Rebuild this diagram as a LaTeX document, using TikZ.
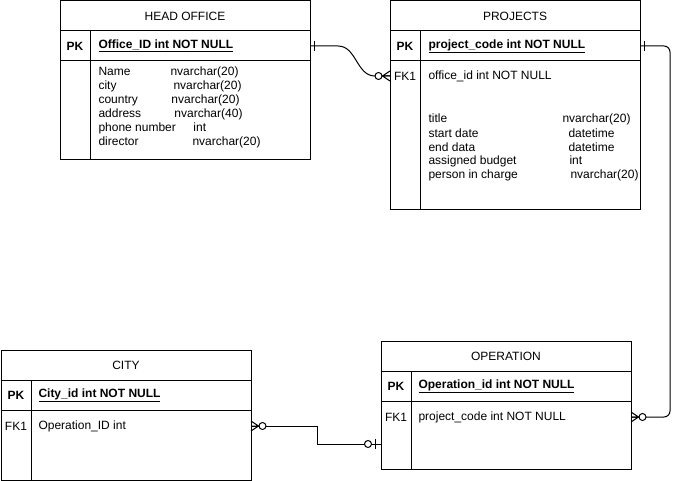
\documentclass[tikz,border=0pt]{standalone}
\usepackage{fontspec}
\setmainfont{Liberation Sans}
\usepackage{tikz}
\usetikzlibrary{positioning}
\newcommand{\erfont}{\fontsize{12}{14}\selectfont}
\newcommand{\fld}[3]{\makebox[#1pt][l]{#2}#3}

\tikzset{
  tabhead/.style={draw, anchor=north west, minimum width=250pt, minimum height=30pt, inner sep=0pt, outer sep=0pt},
  tabrow/.style={draw, minimum width=250pt, minimum height=30pt, inner sep=0pt, outer sep=0pt},
  keytag/.style={font=\erfont\bfseries, inner sep=0pt},
  fktag/.style={inner sep=0pt},
  keyname/.style={font=\erfont\bfseries, anchor=west, inner sep=0pt},
  field/.style={anchor=west, inner sep=0pt},
  onlyone/.pic={\draw (4,-5) -- (4,5);},
  crowzero/.pic={\draw (0,-5) -- (7.5,0) -- (0,5) (0,0) -- (8,0);
    \draw[fill=white] (11.5,0) circle (3.5pt);},
  barzero/.pic={\draw (6,-5) -- (6,5);
    \draw[fill=white] (13,0) circle (3.5pt);}
}

\begin{document}
\begin{tikzpicture}[x=1pt, y=-1pt, line width=1pt, font=\erfont]
  \useasboundingbox (0,0) rectangle (680,481);

  % HEAD OFFICE
  \node[tabhead] (office) at (60,1) {HEAD OFFICE};
  \node[tabrow, below=0pt of office] (officepk) {};
  \node[tabrow, minimum height=99pt, below=0pt of officepk] (officebody) {};
  \draw ([xshift=30pt]officepk.north west) -- ([xshift=30pt]officebody.south west);
  \node[keytag] (officepktag) at ([xshift=15pt]officepk.west) {PK};
  \node[keyname] (officeid) at ([xshift=38pt]officepk.west) {\underline{Office\_ID int NOT NULL}};
  \node[field] (officename) at ([xshift=38pt,yshift=-11pt]officebody.north west) {\fld{72}{Name}{nvarchar(20)}};
  \node[field] (officecity) at ([yshift=-14pt]officename.west) {\fld{75}{city}{nvarchar(20)}};
  \node[field] (officecountry) at ([yshift=-14pt]officecity.west) {\fld{73}{country}{nvarchar(20)}};
  \node[field] (officeaddress) at ([yshift=-14pt]officecountry.west) {\fld{76}{address}{nvarchar(40)}};
  \node[field] (officephone) at ([yshift=-14pt]officeaddress.west) {\fld{95}{phone number}{int}};
  \node[field] (officedirector) at ([yshift=-14pt]officephone.west) {\fld{94}{director}{nvarchar(20)}};

  % PROJECTS
  \node[tabhead] (proj) at (390,1) {PROJECTS};
  \node[tabrow, below=0pt of proj] (projpk) {};
  \node[tabrow, minimum height=149pt, below=0pt of projpk] (projbody) {};
  \draw ([xshift=30pt]projpk.north west) -- ([xshift=30pt]projbody.south west);
  \node[keytag] (projpktag) at ([xshift=15pt]projpk.west) {PK};
  \node[keyname] (projcode) at ([xshift=38pt]projpk.west) {\underline{project\_code int NOT NULL}};
  \node[fktag] (projfktag) at ([xshift=15pt,yshift=-15pt]projbody.north west) {FK1};
  \node[field] (projfk) at ([xshift=38pt,yshift=-15pt]projbody.north west) {office\_id int NOT NULL};
  \node[field] (projtitle) at ([yshift=-43pt]projfk.west) {\fld{134}{title}{nvarchar(20)}};
  \node[field] (projstart) at ([yshift=-14pt]projtitle.west) {\fld{140}{start date}{datetime}};
  \node[field] (projend) at ([yshift=-14pt]projstart.west) {\fld{140}{end data}{datetime}};
  \node[field] (projbudget) at ([yshift=-14pt]projend.west) {\fld{141}{assigned budget}{int}};
  \node[field] (projperson) at ([yshift=-14pt]projbudget.west) {\fld{142}{person in charge}{nvarchar(20)}};

  % CITY
  \node[tabhead] (city) at (1,350) {CITY};
  \node[tabrow, below=0pt of city] (citypk) {};
  \node[tabrow, minimum height=70pt, below=0pt of citypk] (citybody) {};
  \draw ([xshift=30pt]citypk.north west) -- ([xshift=30pt]citybody.south west);
  \node[keytag] (citypktag) at ([xshift=15pt]citypk.west) {PK};
  \node[keyname] (cityid) at ([xshift=37pt]citypk.west) {\underline{City\_id int NOT NULL}};
  \node[fktag] (cityfktag) at ([xshift=15pt,yshift=-16pt]citybody.north west) {FK1};
  \node[field] (cityfk) at ([xshift=37pt,yshift=-16pt]citybody.north west) {Operation\_ID int};

  % OPERATION
  \node[tabhead] (op) at (381,341) {OPERATION};
  \node[tabrow, below=0pt of op] (oppk) {};
  \node[tabrow, minimum height=68pt, below=0pt of oppk] (opbody) {};
  \draw ([xshift=30pt]oppk.north west) -- ([xshift=30pt]opbody.south west);
  \node[keytag] (oppktag) at ([xshift=15pt]oppk.west) {PK};
  \node[keyname] (opid) at ([xshift=37pt]oppk.west) {\underline{Operation\_id int NOT NULL}};
  \node[fktag] (opfktag) at ([xshift=15pt,yshift=-16pt]opbody.north west) {FK1};
  \node[field] (opfk) at ([xshift=37pt,yshift=-16pt]opbody.north west) {project\_code int NOT NULL};
  \coordinate (opin) at ([yshift=-43pt]opbody.north west);

  % relations
  \draw (officepk.east) -- ++(28,0) to[out=0,in=180] ([xshift=-15pt]projbody.west |- projfk.west)
    -- (projbody.west |- projfk.west);
  \pic at (officepk.east) {onlyone};
  \pic[rotate=180] at (projbody.west |- projfk.west) {crowzero};

  \draw[rounded corners=6pt] (projpk.east) -| ([xshift=30pt]projpk.east |- opfk.west)
    -- (opbody.east |- opfk.west);
  \pic at (projpk.east) {onlyone};
  \pic at (opbody.east |- opfk.west) {crowzero};

  \draw (citybody.east |- cityfk.west) -- ++(66,0) |- (opin);
  \pic at (citybody.east |- cityfk.west) {crowzero};
  \pic[rotate=180] at (opin) {barzero};
\end{tikzpicture}
\end{document}
